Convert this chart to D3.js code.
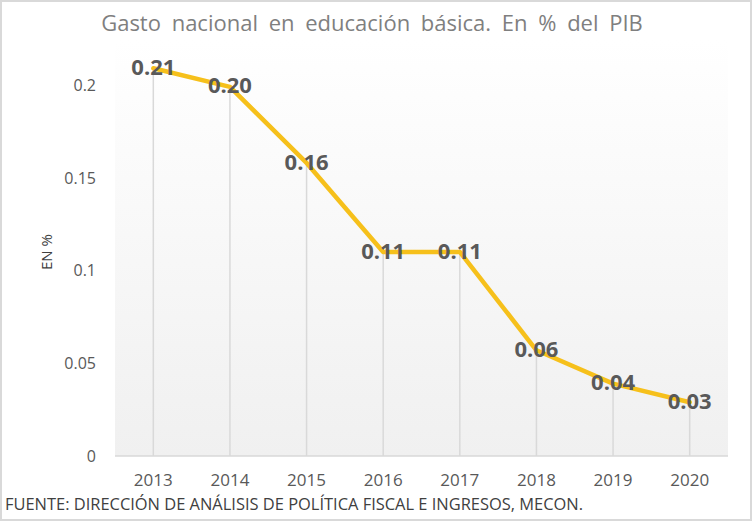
<!DOCTYPE html>
<html>
<head>
<meta charset="utf-8">
<script src="https://cdn.jsdelivr.net/npm/d3@7"></script>
<style>
  body { margin: 0; background: #fff; }
  text { font-family: "Open Sans", Lato, sans-serif; }
</style>
</head>
<body>
<div id="chart"></div>
<script>
// data
var years = ["2013", "2014", "2015", "2016", "2017", "2018", "2019", "2020"];
var values = [0.209, 0.199, 0.158, 0.110, 0.110, 0.057, 0.039, 0.029];
var yTicks = [0, 0.05, 0.1, 0.15, 0.2];
var titleText = "Gasto nacional en educación básica. En % del PIB";
var yLabel = "EN %";
var sourceText = "FUENTE: DIRECCIÓN DE ANÁLISIS DE POLÍTICA FISCAL E INGRESOS, MECON.";

var W = 752, H = 521;
var margin = {top: 40, right: 24, bottom: 65, left: 115};
var w = W - margin.left - margin.right,
    h = H - margin.top - margin.bottom;

var svg = d3.select("#chart").append("svg")
  .attr("width", W).attr("height", H);

// outer frame
svg.append("rect")
  .attr("x", 1).attr("y", 1).attr("width", W - 2).attr("height", H - 2)
  .attr("fill", "#fff").attr("stroke", "#d9d9d9").attr("stroke-width", 2);

var grad = svg.append("defs").append("linearGradient")
  .attr("id", "bg").attr("x1", 0).attr("y1", 0).attr("x2", 0).attr("y2", 1);
grad.append("stop").attr("offset", "0%").attr("stop-color", "#ffffff");
grad.append("stop").attr("offset", "100%").attr("stop-color", "#f0f0f0");

var g = svg.append("g")
  .attr("transform", "translate(" + margin.left + "," + margin.top + ")");

var xScale = d3.scaleBand().domain(years).range([0, w]);
var yScale = d3.scaleLinear().domain([0, 0.2]).range([h, 45]);

g.append("rect")
  .attr("x", 0).attr("y", 0).attr("width", w).attr("height", h)
  .attr("fill", "url(#bg)");

function cx(d) { return xScale(d) + xScale.bandwidth() / 2; }

// drop lines
g.selectAll("line.drop").data(years).enter().append("line")
  .attr("class", "drop")
  .attr("x1", cx).attr("x2", cx)
  .attr("y1", function(d, i) { return yScale(values[i]); })
  .attr("y2", h)
  .attr("stroke", "#d9d9d9").attr("stroke-width", 1.5);

// x axis line
g.append("line")
  .attr("x1", 0).attr("x2", w).attr("y1", h).attr("y2", h)
  .attr("stroke", "#d9d9d9").attr("stroke-width", 1.5);

// y tick labels
g.selectAll("text.ytick").data(yTicks).enter().append("text")
  .attr("class", "ytick")
  .attr("x", -19).attr("y", function(d) { return yScale(d); })
  .attr("dy", "0.36em")
  .attr("text-anchor", "end")
  .attr("font-size", 16).attr("fill", "#595959")
  .text(function(d) { return d; });

// x tick labels
g.selectAll("text.xtick").data(years).enter().append("text")
  .attr("class", "xtick")
  .attr("x", cx).attr("y", h + 30)
  .attr("text-anchor", "middle")
  .attr("font-size", 17).attr("fill", "#595959")
  .text(function(d) { return d; });

// line
var line = d3.line()
  .x(function(d) { return cx(d.year); })
  .y(function(d) { return yScale(d.value); });

var pts = years.map(function(y, i) { return {year: y, value: values[i]}; });

g.append("path").datum(pts)
  .attr("d", line)
  .attr("fill", "none")
  .attr("stroke", "#f6c01b")
  .attr("stroke-width", 4.5)
  .attr("stroke-linejoin", "round")
  .attr("stroke-linecap", "round");

// value labels
g.selectAll("text.val").data(pts).enter().append("text")
  .attr("class", "val")
  .attr("x", function(d) { return cx(d.year); })
  .attr("y", function(d) { return yScale(d.value); })
  .attr("dy", "0.3em")
  .attr("text-anchor", "middle")
  .attr("font-size", 22).attr("font-weight", "bold").attr("fill", "#595959")
  .text(function(d) { return d.value.toFixed(2); });

// y label
svg.append("text")
  .attr("transform", "translate(52,252) rotate(-90)")
  .attr("text-anchor", "middle")
  .attr("font-size", 15).attr("fill", "#404040")
  .text(yLabel);

// title
svg.append("text")
  .attr("x", 372).attr("y", 31)
  .attr("text-anchor", "middle")
  .attr("font-size", 22).attr("fill", "#7f7f7f")
  .attr("word-spacing", 5)
  .text(titleText);

// source
svg.append("text")
  .attr("x", 5).attr("y", 510)
  .attr("font-size", 16).attr("fill", "#404040")
  .attr("textLength", 578).attr("lengthAdjust", "spacingAndGlyphs")
  .text(sourceText);
</script>
</body>
</html>
